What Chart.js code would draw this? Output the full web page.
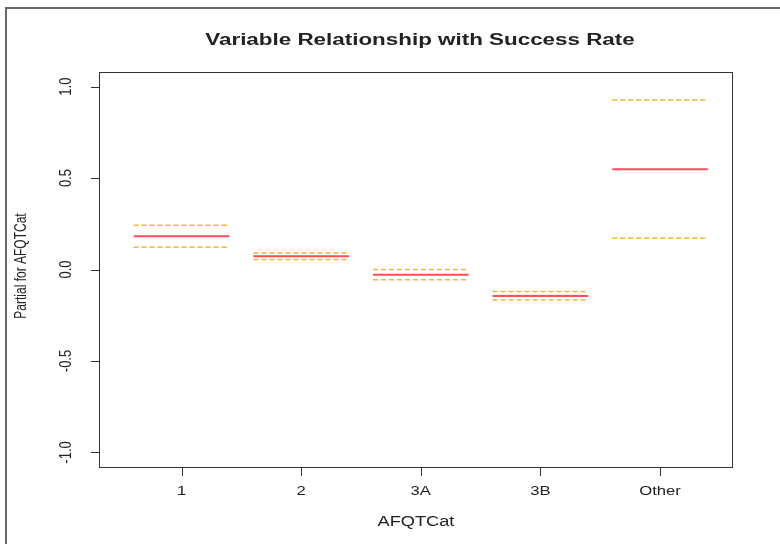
<!DOCTYPE html>
<html>
<head>
<meta charset="utf-8">
<script src="https://cdn.jsdelivr.net/npm/chart.js@4/dist/chart.umd.min.js"></script>
<style>
  html, body { margin: 0; padding: 0; background: #fff; overflow: hidden; }
  #wrap { position: relative; width: 780px; height: 544px; }
  #frame { position: absolute; left: 5px; top: 7px; width: 820px; height: 600px; border: 2px solid #666; }
  #myChart { position: absolute; left: 0; top: 0; }
</style>
</head>
<body>
<div id="wrap">
  <div id="frame"></div>
  <canvas id="myChart" width="780" height="544"></canvas>
</div>
<script>
const categories = ["1", "2", "3A", "3B", "Other"];
const fit = [0.182, 0.073, -0.029, -0.144, 0.549];
const upper = [0.242, 0.091, 0.0, -0.12, 0.927];
const lower = [0.122, 0.055, -0.056, -0.166, 0.171];
const yTicks = [-1, -0.5, 0, 0.5, 1];
const yTickLabels = ["-1.0", "-0.5", "0.0", "0.5", "1.0"];

// each category gets a flat segment from i-0.4 to i+0.4, gaps between
function segmentos(valores) {
  const pts = [];
  valores.forEach((v, i) => {
    pts.push({ x: i + 1 - 0.4, y: v });
    pts.push({ x: i + 1 + 0.4, y: v });
    pts.push({ x: i + 1.5, y: null });
  });
  return pts;
}

function texto(ctx, txt, x, y, font, sx, rot) {
  ctx.save();
  ctx.translate(x, y);
  ctx.font = font;
  ctx.fillStyle = "#222";
  ctx.textAlign = "center";
  ctx.textBaseline = "middle";
  if (rot) {
    ctx.rotate(-Math.PI / 2);
    ctx.scale(1, sx);
  } else {
    ctx.scale(sx, 1);
  }
  ctx.fillText(txt, 0, 0);
  ctx.restore();
}

const eixosR = {
  id: "eixosR",
  afterDraw(chart) {
    const ctx = chart.ctx;
    const a = chart.chartArea;
    const sx = chart.scales.x;
    const sy = chart.scales.y;
    ctx.save();
    ctx.strokeStyle = "#333";
    ctx.lineWidth = 1;
    ctx.strokeRect(a.left + 0.5, a.top + 0.5, a.right - a.left - 1, a.bottom - a.top - 1);
    ctx.beginPath();
    yTicks.forEach((v) => {
      const y = Math.round(sy.getPixelForValue(v)) + 0.5;
      ctx.moveTo(a.left - 8, y);
      ctx.lineTo(a.left, y);
    });
    categories.forEach((c, i) => {
      const x = Math.round(sx.getPixelForValue(i + 1)) + 0.5;
      ctx.moveTo(x, a.bottom);
      ctx.lineTo(x, a.bottom + 8);
    });
    ctx.stroke();
    ctx.restore();

    yTicks.forEach((v, i) => {
      texto(ctx, yTickLabels[i], 66, sy.getPixelForValue(v), "13px 'Liberation Sans', Arial", 1.3, true);
    });
    categories.forEach((c, i) => {
      texto(ctx, c, sx.getPixelForValue(i + 1), 491, "13px 'Liberation Sans', Arial", 1.28, false);
    });
    const cx = (a.left + a.right) / 2;
    texto(ctx, "AFQTCat", cx, 522, "14px 'Liberation Sans', Arial", 1.3, false);
    texto(ctx, "Partial for AFQTCat", 22, (a.top + a.bottom) / 2 - 4, "12px 'Liberation Sans', Arial", 1.3, true);
    texto(ctx, "Variable Relationship with Success Rate", cx + 4, 41, "bold 16px 'Liberation Sans', Arial", 1.4, false);
  },
};

const ctx = document.getElementById("myChart").getContext("2d");
const myChart = new Chart(ctx, {
  type: "scatter",
  data: {
    datasets: [
      {
        data: segmentos(upper),
        showLine: true,
        borderColor: "#f5b53a",
        borderWidth: 1.5,
        borderDash: [5, 3],
        pointRadius: 0,
      },
      {
        data: segmentos(lower),
        showLine: true,
        borderColor: "#f5b53a",
        borderWidth: 1.5,
        borderDash: [5, 3],
        pointRadius: 0,
      },
      {
        data: segmentos(fit),
        showLine: true,
        borderColor: "#ff4d5c",
        borderWidth: 2,
        pointRadius: 0,
      },
    ],
  },
  options: {
    responsive: false,
    animation: false,
    layout: { padding: { top: 72, right: 47, left: 0, bottom: 0 } },
    plugins: {
      legend: { display: false },
      title: { display: false },
      tooltip: { enabled: false },
    },
    scales: {
      x: {
        type: "linear",
        min: 0.31,
        max: 5.61,
        grid: { display: false },
        border: { display: false },
        ticks: { display: false },
        afterFit: function (s) { s.height = 76; },
      },
      y: {
        min: -1.085,
        max: 1.08,
        grid: { display: false },
        border: { display: false },
        ticks: { display: false },
        afterFit: function (s) { s.width = 99; },
      },
    },
  },
  plugins: [eixosR],
});
</script>
</body>
</html>
